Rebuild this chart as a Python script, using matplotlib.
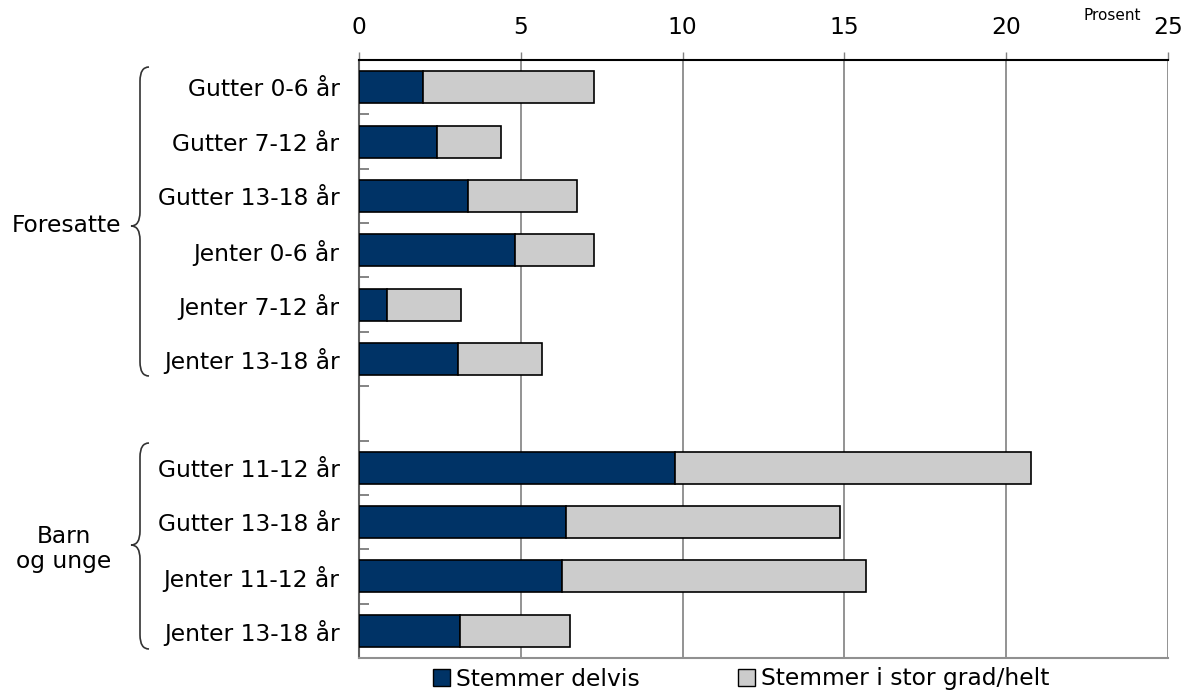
import matplotlib
matplotlib.use("Agg")
import matplotlib.pyplot as plt
import matplotlib.transforms as mtransforms
from matplotlib.path import Path
from matplotlib.patches import PathPatch, Patch
import numpy as np

categories = ["Gutter 0-6 år", "Gutter 7-12 år", "Gutter 13-18 år",
              "Jenter 0-6 år", "Jenter 7-12 år", "Jenter 13-18 år",
              "Gutter 11-12 år", "Gutter 13-18 år", "Jenter 11-12 år", "Jenter 13-18 år"]
delvis = [1.97, 2.41, 3.36, 4.83, 0.86, 3.05, 9.78, 6.41, 6.27, 3.12]
totals = [7.26, 4.39, 6.73, 7.25, 3.16, 5.67, 20.76, 14.85, 15.67, 6.53]
stor_grad = [t - d for t, d in zip(totals, delvis)]
groups = ["Foresatte", "Barn\nog unge"]
series_names = ["Stemmer delvis", "Stemmer i stor grad/helt"]
xticks = [0, 5, 10, 15, 20, 25]

DARK = "#003366"
LIGHT = "#CCCCCC"
W, H = 1194, 699
FS = 16.8

fig = plt.figure(figsize=(W / 100, H / 100), dpi=100)
ax = fig.add_axes([359 / W, 1 - 658 / H, (1168 - 359) / W, (658 - 60) / H])

ypos = [0, 1, 2, 3, 4, 5, 7, 8, 9, 10]
ax.barh(ypos, delvis, height=0.59, color=DARK, edgecolor="black", linewidth=1.2, zorder=3)
ax.barh(ypos, stor_grad, left=delvis, height=0.59, color=LIGHT, edgecolor="black", linewidth=1.2, zorder=3)

ax.set_xlim(0, 25)
ax.set_ylim(10.5, -0.5)
ax.xaxis.tick_top()
ax.set_xticks(xticks)
ax.set_xticklabels([str(v) for v in xticks], fontsize=FS)
ax.tick_params(axis="x", direction="out", length=6, width=1, color="#808080", pad=9)
for v in xticks[1:]:
    ax.axvline(v, color="#808080", lw=1.2, zorder=1)

ax.set_yticks(ypos)
ax.set_yticklabels(categories, fontsize=FS)
ax.tick_params(axis="y", which="major", direction="in", length=5, width=1, color="#333333", pad=14)
ax.set_yticks(np.arange(-0.5, 10.6, 1.0), minor=True)
ax.tick_params(axis="y", which="minor", direction="in", length=7, width=1.2, color="#707070")

ax.spines["top"].set_color("black")
ax.spines["top"].set_linewidth(1.5)
ax.spines["right"].set_visible(False)
ax.spines["bottom"].set_color("#909090")
ax.spines["bottom"].set_linewidth(1.5)
ax.spines["left"].set_color("#606060")
ax.spines["left"].set_linewidth(1.5)

fig.text(1112 / W, 1 - 16 / H, "Prosent", fontsize=11, ha="center", va="center")

pix = mtransforms.Affine2D().scale(1 / W, -1 / H).translate(0, 1) + fig.transFigure

def brace(y0, y1, ytip, x_end=149, x_mid=140, x_tip=131, r=14):
    verts = [(x_end, y0), (x_mid, y0), (x_mid, y0 + r),
             (x_mid, ytip - r), (x_mid, ytip), (x_tip, ytip),
             (x_mid, ytip), (x_mid, ytip + r),
             (x_mid, y1 - r), (x_mid, y1), (x_end, y1)]
    codes = [Path.MOVETO, Path.CURVE3, Path.CURVE3,
             Path.LINETO, Path.CURVE3, Path.CURVE3,
             Path.CURVE3, Path.CURVE3,
             Path.LINETO, Path.CURVE3, Path.CURVE3]
    p = PathPatch(Path(verts, codes), transform=pix, fill=False, lw=1.2,
                  edgecolor="#333333", clip_on=False)
    fig.add_artist(p)

brace(67, 376, 226)
brace(443, 649, 545)

fig.text(121 / W, 1 - 226 / H, groups[0], fontsize=FS, ha="right", va="center")
fig.text(64 / W, 1 - 549 / H, groups[1], fontsize=FS, ha="center", va="center", linespacing=1.1)

handles = [Patch(facecolor=DARK, edgecolor="black", lw=1),
           Patch(facecolor=LIGHT, edgecolor="black", lw=1)]
fig.legend(handles, series_names, loc="center", bbox_to_anchor=(741 / W, 1 - 679 / H),
           ncol=2, frameon=False, fontsize=FS, handlelength=0.75, handleheight=0.75,
           handletextpad=0.25, columnspacing=4.2, borderaxespad=0, borderpad=0)

fig.savefig("out.png", dpi=100)
